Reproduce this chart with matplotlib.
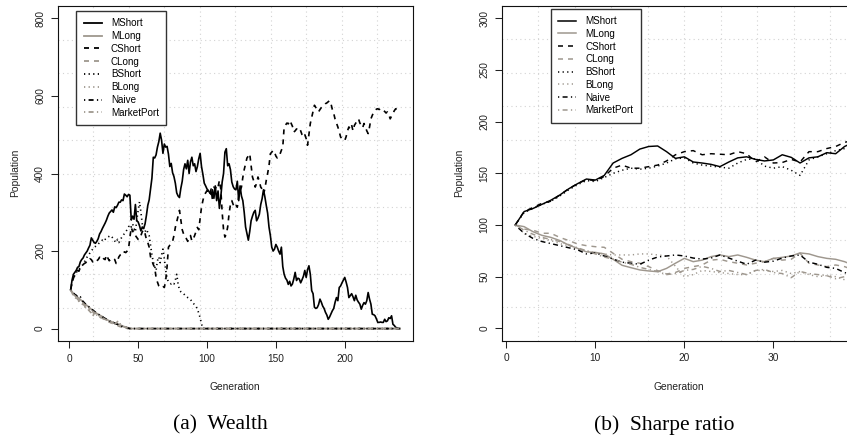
import numpy as np
import matplotlib
matplotlib.use('Agg')
import matplotlib.pyplot as plt
from matplotlib.lines import Line2D

plt.rcParams['font.family'] = ['Liberation Sans', 'DejaVu Sans']
plt.rcParams['lines.scale_dashes'] = False

series_names = ["MShort", "MLong", "CShort", "CLong", "BShort", "BLong", "Naive", "MarketPort"]

# ---------------- (a) Wealth : population per generation (1..240) ----------------
wealth_MShort = [
    100, 125, 140, 145, 150, 158, 160, 172, 178, 182, 190, 195, 200, 208, 215, 234, 228, 222, 220, 225,
    232, 244, 250, 258, 265, 272, 280, 290, 298, 302, 306, 300, 314, 312, 318, 326, 326, 332, 330, 347,
    344, 340, 346, 344, 280, 290, 282, 320, 278, 275, 265, 252, 262, 258, 270, 292, 318, 332, 360, 388,
    442, 440, 448, 468, 482, 504, 486, 452, 476, 468, 470, 450, 418, 426, 402, 392, 375, 350, 342, 338,
    362, 380, 410, 425, 412, 434, 400, 430, 442, 420, 425, 405, 418, 438, 452, 418, 398, 375, 368, 360,
    356, 350, 346, 358, 336, 368, 330, 355, 310, 340, 378, 400, 455, 464, 420, 425, 410, 378, 366, 360,
    358, 380, 330, 368, 342, 330, 300, 262, 245, 228, 250, 278, 290, 300, 305, 278, 285, 295, 320, 335,
    358, 340, 318, 298, 262, 240, 210, 200, 205, 217, 210, 200, 192, 210, 160, 140, 130, 125, 114, 122,
    110, 115, 128, 145, 124, 130, 128, 118, 126, 135, 150, 132, 152, 162, 140, 98, 90, 55, 52, 54,
    62, 76, 68, 58, 52, 42, 35, 24, 30, 38, 46, 52, 68, 80, 72, 106, 110, 118, 125, 132,
    120, 106, 80, 85, 90, 82, 72, 86, 74, 68, 63, 50, 60, 67, 63, 72, 93, 76, 63, 37,
    36, 33, 25, 16, 16, 17, 16, 16, 24, 18, 20, 28, 26, 33, 11, 8, 3, 2, 0, 0]
wealth_CShort = [
    100, 118, 130, 138, 145, 150, 148, 158, 162, 165, 168, 170, 176, 175, 180, 178, 172, 176, 178, 175,
    178, 184, 182, 186, 180, 178, 190, 182, 175, 178, 176, 180, 178, 168, 175, 185, 190, 192, 190, 198,
    196, 200, 205, 235, 261, 250, 252, 240, 235, 230, 231, 240, 250, 255, 245, 230, 222, 210, 185, 175,
    165, 158, 132, 120, 110, 106, 105, 108, 106, 124, 160, 210, 215, 219, 225, 240, 261, 275, 290, 305,
    280, 255, 244, 235, 232, 225, 235, 240, 226, 231, 240, 250, 261, 255, 285, 313, 330, 345, 350, 356,
    352, 345, 360, 330, 365, 360, 370, 365, 382, 360, 300, 255, 236, 244, 262, 296, 320, 330, 320, 312,
    318, 313, 340, 355, 365, 390, 410, 425, 440, 445, 451, 420, 391, 380, 365, 375, 391, 380, 365, 360,
    347, 360, 382, 400, 420, 451, 455, 460, 455, 445, 440, 442, 450, 460, 468, 520, 525, 530, 528, 537,
    530, 522, 507, 510, 515, 512, 516, 510, 500, 494, 500, 490, 473, 500, 529, 545, 560, 576, 570, 562,
    559, 565, 570, 574, 576, 580, 582, 585, 588, 580, 565, 555, 540, 530, 520, 508, 494, 490, 486, 485,
    495, 510, 520, 515, 525, 510, 524, 530, 535, 541, 530, 525, 518, 529, 520, 510, 503, 520, 541, 550,
    558, 562, 566, 567, 565, 568, 564, 563, 560, 556, 559, 552, 541, 548, 555, 562, 567, 565, 568, 570]
# the following series are listed up to the generation where they reach 0; they stay 0 until generation 240
wealth_BShort = [
    100, 120, 130, 138, 145, 148, 152, 158, 162, 165, 172, 178, 185, 190, 195, 200, 205, 210, 212, 215,
    218, 222, 225, 228, 225, 230, 232, 236, 238, 240, 236, 232, 226, 222, 230, 222, 228, 235, 240, 245,
    250, 255, 262, 268, 262, 270, 258, 250, 280, 305, 327, 300, 270, 255, 250, 256, 248, 240, 215, 190,
    172, 160, 150, 175, 185, 170, 190, 205, 180, 150, 130, 120, 118, 115, 118, 115, 125, 140, 115, 100,
    95, 92, 90, 86, 84, 80, 78, 75, 70, 65, 62, 58, 50, 40, 28, 12, 0]
wealth_MLong = [
    100, 95, 91, 87, 84, 81, 78, 75, 72, 69, 66, 62, 59, 56, 53, 50, 47, 44, 42, 39,
    37, 35, 33, 31, 28, 26, 24, 22, 20, 19, 17, 16, 14, 13, 12, 11, 9, 8, 6, 5,
    4, 3, 2, 1, 0]
wealth_CLong = [
    100, 92, 86, 84, 80, 76, 72, 68, 70, 62, 60, 50, 45, 48, 44, 40, 30, 40, 38, 36,
    34, 30, 28, 27, 24, 22, 20, 18, 17, 15, 14, 12, 10, 9, 8, 6, 5, 4, 3, 2,
    1, 0]
wealth_BLong = [
    100, 90, 86, 80, 78, 74, 70, 66, 64, 62, 58, 55, 52, 50, 48, 45, 42, 40, 37, 35,
    33, 31, 29, 27, 25, 24, 22, 20, 19, 18, 16, 17, 18, 14, 12, 10, 8, 6, 5, 4,
    3, 2, 1, 0]
wealth_Naive = [
    100, 96, 92, 88, 86, 82, 80, 82, 74, 70, 66, 62, 60, 57, 54, 51, 48, 45, 42, 40,
    37, 35, 33, 31, 28, 26, 24, 22, 20, 18, 17, 15, 14, 12, 11, 9, 8, 6, 5, 4,
    3, 2, 1, 0]
wealth_MarketPort = [
    100, 93, 88, 85, 82, 78, 75, 72, 68, 66, 62, 60, 56, 54, 50, 48, 45, 42, 40, 37,
    35, 32, 30, 28, 26, 24, 22, 20, 18, 17, 15, 14, 12, 14, 18, 20, 12, 8, 6, 4,
    3, 2, 1, 0]
wealth_last_gen = 240

# ---------------- (b) Sharpe ratio : population per generation (1..39) ----------------
sharpe_MShort = [100, 113, 116, 120, 124, 129, 135, 140, 144.5, 143.5, 148, 160, 164.5, 168, 173.5, 176, 176.5,
                 171, 164.5, 166, 161, 160, 158.7, 156.5, 161, 165, 166, 163.5, 162, 163, 168, 165.5, 160,
                 165, 166, 170, 169, 176, 180]
sharpe_CShort = [100, 113, 117, 121, 123, 129, 135, 140, 144, 143, 147, 155, 158, 155, 155, 156.5, 158, 162,
                 168, 171, 172, 168, 169, 168.5, 168, 171, 169, 161, 166, 160, 160.5, 163.5, 161, 171, 171,
                 174, 176, 180, 182]
sharpe_BShort = [100, 112, 116, 120, 123, 128, 134, 139, 143, 142, 146, 150, 153, 155, 154, 155, 157, 160,
                 164, 165, 160, 158, 157, 156, 155, 160, 163.5, 164, 157, 155, 156.5, 153, 148, 163, 166,
                 169, 172, 174, 178]
sharpe_MLong = [100, 98.4, 93.5, 90, 88, 85, 80.6, 77.4, 74, 73.5, 72, 66.8, 61, 58.7, 56.5, 55.5, 54.8, 58,
                63, 67.7, 64.5, 66, 69.4, 71, 69.4, 71, 68.7, 66, 64.5, 67.7, 68.7, 70, 73, 72, 69.4, 67.7,
                66.8, 64.5, 61]
sharpe_CLong = [100, 96, 95, 92, 92, 88, 85, 81.6, 80, 79, 78.4, 72.6, 66.8, 64.5, 63, 59.7, 55.8, 52.6, 54,
                58, 59.7, 61.3, 66, 66.8, 64.5, 63, 61.3, 63, 64.5, 67.7, 66, 66.8, 72.6, 63, 61.3, 59.7,
                61.3, 59.7, 56.5]
sharpe_BLong = [100, 92, 89, 87, 85, 82, 80, 77, 75, 73, 72, 71, 71, 71, 72, 72, 71, 70, 60, 50, 52, 56, 55,
                54, 53, 52, 52, 56, 56, 55, 56, 53, 55, 52, 50, 51, 50, 47, 44]
sharpe_Naive = [100, 92, 87, 84, 82, 80, 78, 76, 72, 73, 70, 67, 64, 63, 62, 66, 69, 70, 71, 70, 68, 67, 68,
                71, 68, 65, 62, 66, 64, 65, 68, 70, 71, 64, 62, 59, 58, 54, 51]
sharpe_MarketPort = [100, 95, 91, 88, 86, 84, 81, 78, 75, 72, 69, 67, 64, 62, 59, 57, 55, 52, 53, 56, 57, 60,
                     58, 55, 56, 54, 52, 56, 57, 54, 53, 49, 55, 53, 52, 51, 48, 50, 47]

wealth = {"MShort": wealth_MShort, "MLong": wealth_MLong, "CShort": wealth_CShort, "CLong": wealth_CLong,
          "BShort": wealth_BShort, "BLong": wealth_BLong, "Naive": wealth_Naive, "MarketPort": wealth_MarketPort}
sharpe = {"MShort": sharpe_MShort, "MLong": sharpe_MLong, "CShort": sharpe_CShort, "CLong": sharpe_CLong,
          "BShort": sharpe_BShort, "BLong": sharpe_BLong, "Naive": sharpe_Naive, "MarketPort": sharpe_MarketPort}

wealth_xticks = [0, 50, 100, 150, 200]
wealth_yticks = [0, 200, 400, 600, 800]
sharpe_xticks = [0, 10, 20, 30]
sharpe_yticks = [0, 50, 100, 150, 200, 250, 300]

# ---------------- styles ----------------
BLACK = '#000000'
GRAY = '#9E978E'
DASHED = (0, (3.6, 3.6))
DOTTED = (0, (0.9, 2.4))
DOTDASH = (0, (0.9, 2.4, 3.6, 2.4))
styles = {
    "MShort": (BLACK, '-'), "MLong": (GRAY, '-'),
    "CShort": (BLACK, DASHED), "CLong": (GRAY, DASHED),
    "BShort": (BLACK, DOTTED), "BLong": (GRAY, DOTTED),
    "Naive": (BLACK, DOTDASH), "MarketPort": (GRAY, DOTDASH),
}

W, H = 847, 441
fig = plt.figure(figsize=(W / 100, H / 100), dpi=100)
ax1 = fig.add_axes([57.5 / W, 100 / H, 355.5 / W, 335 / H])
ax2 = fig.add_axes([501.7 / W, 100.3 / H, 365.3 / W, 334.7 / H])


def r_lim(lo, hi):
    d = (hi - lo) * 0.04
    return lo - d, hi + d


def style_axes(ax, xlim, ylim, xt, yt):
    ax.set_xlim(*xlim)
    ax.set_ylim(*ylim)
    for i in range(1, 10):
        xv = xlim[0] + i * (xlim[1] - xlim[0]) / 10
        yv = ylim[0] + i * (ylim[1] - ylim[0]) / 10
        ax.axvline(xv, color='#d3d3d3', lw=0.8, ls=(0, (0.8, 2.4)), zorder=0)
        ax.axhline(yv, color='#d3d3d3', lw=0.8, ls=(0, (0.8, 2.4)), zorder=0)
    ax.set_xticks(xt)
    ax.set_xticklabels([str(t) for t in xt])
    ax.set_yticks(yt)
    ax.set_yticklabels([str(t) for t in yt], rotation=90, va='center')
    ax.tick_params(direction='out', length=5, width=0.75, labelsize=7.3, pad=4, colors='#222222')
    for s in ax.spines.values():
        s.set_linewidth(0.8)
        s.set_color('#111111')


def draw(ax, data, last_gen, lw):
    for name in series_names:
        vals = list(data[name])
        gens = list(range(1, len(vals) + 1))
        if last_gen is not None and gens[-1] < last_gen:
            gens.append(last_gen)
            vals.append(0)
        c, ls = styles[name]
        ax.plot(gens, vals, color=c, linestyle=ls, lw=lw, zorder=3)


draw(ax1, wealth, wealth_last_gen, 1.2)
draw(ax2, sharpe, None, 1.05)
style_axes(ax1, r_lim(1, 240), r_lim(0, 800), wealth_xticks, wealth_yticks)
style_axes(ax2, r_lim(1, 39), r_lim(0, 300), sharpe_xticks, sharpe_yticks)


def legend(ax, anchor, lw):
    handles = [Line2D([0], [0], color=styles[n][0], linestyle=styles[n][1], lw=lw) for n in series_names]
    leg = ax.legend(handles, series_names, loc='upper left', bbox_to_anchor=anchor, borderaxespad=0,
                    fontsize=7.1, handlelength=1.85, handletextpad=0.9, labelspacing=0.28,
                    borderpad=0.75, fancybox=False, edgecolor='#333333', framealpha=1)
    leg.get_frame().set_linewidth(1.0)
    leg.set_zorder(5)


legend(ax1, (0.053, 0.985), 1.3)
legend(ax2, (0.134, 0.992), 1.1)

# axis labels
fig.text(235 / W, 1 - 386.7 / H, 'Generation', ha='center', va='center', fontsize=7.4, color='#222222')
fig.text(679 / W, 1 - 386.7 / H, 'Generation', ha='center', va='center', fontsize=7.4, color='#222222')
fig.text(15 / W, 1 - 173 / H, 'Population', ha='center', va='center', rotation=90, fontsize=7.4, color='#222222')
fig.text(459 / W, 1 - 173 / H, 'Population', ha='center', va='center', rotation=90, fontsize=7.4, color='#222222')

# captions
fig.text(220 / W, 1 - 425 / H, '(a)  Wealth', ha='center', va='center', fontsize=15.5,
         family=['Liberation Serif', 'DejaVu Serif'])
fig.text(664 / W, 1 - 425 / H, '(b)  Sharpe ratio', ha='center', va='center', fontsize=15.5,
         family=['Liberation Serif', 'DejaVu Serif'])

fig.savefig('out.png', dpi=100)
